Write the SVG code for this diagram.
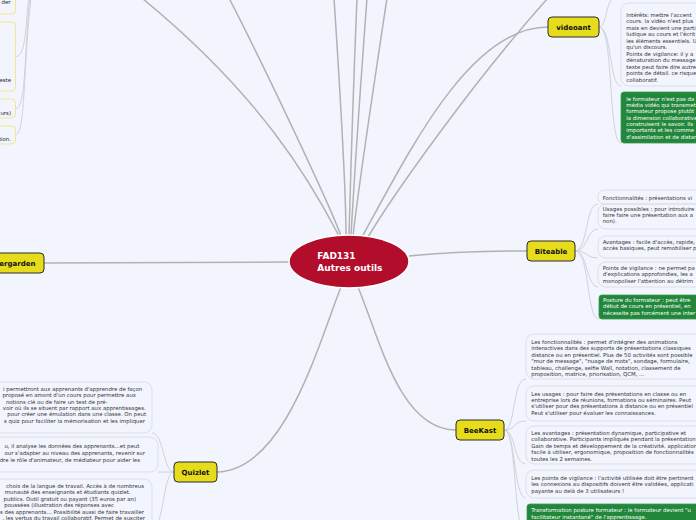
<svg xmlns="http://www.w3.org/2000/svg" width="696" height="520" viewBox="0 0 696 520">
<style>
.main{stroke:#b2b2b2;stroke-width:1.5;fill:none}
.sub{stroke:#cfd2d8;stroke-width:1;fill:none}
.node rect{fill:#e6dc1c;stroke:#2b2b2b;stroke-width:1}
.lbl{font-family:"DejaVu Sans",Verdana,sans-serif;font-weight:bold;font-size:7px;fill:#111;text-anchor:middle}
.card{fill:none;stroke:#dcdfe8;stroke-width:1}
.ycard{fill:none;stroke:#f3e78e;stroke-width:1}
.green{fill:#22873a;stroke:#3a9a50;stroke-width:0.8}
.t{font-family:"DejaVu Sans",Verdana,sans-serif;font-size:5.4px;fill:#333333}
.tw{font-family:"DejaVu Sans",Verdana,sans-serif;font-size:5.4px;fill:#ffffff}
.te{text-anchor:end}
.dk{fill:#222222}
</style>
<rect x="0" y="0" width="696" height="520" fill="#f2f5fd"/>

<g id="connectors">
  <path class="main" d="M339,236 C310,180 260,95 143,-1"/>
  <path class="main" d="M341,236 C330,205 262,62 229,-2"/>
  <path class="main" stroke-width="2.2" d="M346,236 C346,200 342,120 334,-2"/>
  <path class="main" d="M349,236 C350,200 352,120 357,-2"/>
  <path class="main" d="M351,236 C353,200 358,120 367,-2"/>
  <path class="main" d="M353,236 C357,200 370,110 387,-2"/>
  <path class="main" d="M368,237 C390,200 470,85 548,-2"/>
  <path class="main" d="M362,237 C410,150 470,27 548,27"/>
  <path class="main" d="M289,262 C200,262 120,263 44,263"/>
  <path class="main" d="M409,256 C450,252 490,251 527,251"/>
  <path class="main" d="M341,287 C318,345 285,470 217,472"/>
  <path class="main" d="M358,287 C380,340 400,430 456,430"/>
  <path class="sub" d="M599,27 C607,27 605,2 614,-2"/>
  <path class="sub" d="M599,27 C612,27 609,86 621,86"/>
  <path class="sub" d="M599,27 C614,27 608,143 621,143"/>
  <path class="sub" d="M575,251 C588,251 585,204 598,204"/>
  <path class="sub" d="M575,251 C588,251 586,229 598,229"/>
  <path class="sub" d="M575,251 C588,251 586,258 598,258"/>
  <path class="sub" d="M575,251 C588,251 586,287 598,287"/>
  <path class="sub" d="M575,251 C590,251 586,319 599,319"/>
  <path class="sub" d="M504,430 C516,430 512,379 526,379"/>
  <path class="sub" d="M504,430 C516,430 513,421 526,421"/>
  <path class="sub" d="M504,430 C516,430 513,464 526,464"/>
  <path class="sub" d="M504,430 C516,430 513,498 526,498"/>
  <path class="sub" d="M504,430 C518,430 512,534 527,534"/>
  <path class="sub" d="M174,472 C163,472 164,433 152,433"/>
  <path class="sub" d="M174,472 L158,472"/>
  <path class="sub" d="M174,472 C163,472 164,529 152,529"/>
  <path class="sub" d="M15.5,56.5 C26,56.5 25,30 29,-5"/>
  <path class="sub" d="M15.5,108.5 C26,108.5 24,60 30,-5"/>
  <path class="sub" d="M15.5,135 C26,135 23,60 31.5,-5"/>
</g>

<g id="central">
  <ellipse cx="349" cy="261.5" rx="60" ry="26.5" fill="#b20d2b" stroke="#ffffff" stroke-width="1.5"/>
  <text x="317.3" y="259" font-family="DejaVu Sans, Verdana, sans-serif" font-weight="bold" font-size="9" fill="#ffffff">FAD131</text>
  <text x="317.3" y="270.5" font-family="DejaVu Sans, Verdana, sans-serif" font-weight="bold" font-size="9" fill="#ffffff">Autres outils</text>
</g>

<g id="videoant" class="node">
  <rect x="548" y="17" width="51" height="20" rx="4"/>
  <text class="lbl" x="573.5" y="29.5">videoant</text>
</g>
<g id="biteable" class="node">
  <rect x="527" y="241" width="48" height="20" rx="4"/>
  <text class="lbl" x="551" y="253.5">Biteable</text>
</g>
<g id="beekast" class="node">
  <rect x="456" y="420" width="48" height="20" rx="4"/>
  <text class="lbl" x="480" y="432.5">BeeKast</text>
</g>
<g id="quizlet" class="node">
  <rect x="174" y="462" width="43" height="20" rx="4"/>
  <text class="lbl" x="195.5" y="474.5">Quizlet</text>
</g>
<g id="kindergarden" class="node">
  <rect x="-22" y="253" width="66" height="20" rx="4"/>
  <text class="lbl" x="35.5" y="265.5" style="text-anchor:end">ergarden</text>
</g>

<g id="tl-card1">
  <rect class="ycard" x="-60" y="-30" width="75.5" height="44" rx="4"/>
  <text class="t te dk" x="10.5" y="3.8">der</text>
</g>
<g id="tl-card2">
  <rect class="ycard" x="-60" y="22" width="75.5" height="69" rx="4"/>
  <text class="t te dk" x="11" y="81.8">este</text>
</g>
<g id="tl-card3">
  <rect class="ycard" x="-60" y="99" width="75.5" height="19" rx="4"/>
  <text class="t te dk" x="11" y="114.5">urs)</text>
</g>
<g id="tl-card4">
  <rect class="ycard" x="-60" y="126" width="75.5" height="18" rx="4"/>
  <text class="t te dk" x="11" y="140.8">tion.</text>
</g>

<g id="videoant-c1">
  <rect class="card" x="621" y="3" width="100" height="83" rx="8"/>
  <text class="t" x="626.3" y="16.8">Intérêts: mettre l'accent</text>
  <text class="t" x="626.3" y="23.3">cours. la vidéo n'est plus</text>
  <text class="t" x="626.3" y="29.8">mais en devient une parti</text>
  <text class="t" x="626.3" y="36.3">ludique au cours et l'écrit</text>
  <text class="t" x="626.3" y="42.8">les éléments essentiels. U</text>
  <text class="t" x="626.3" y="49.3">qu'un discours.</text>
  <text class="t" x="626.3" y="55.8">Points de vigilance: il y a</text>
  <text class="t" x="626.3" y="62.3">dénaturation du message</text>
  <text class="t" x="626.3" y="68.8">texte peut faire dire autre</text>
  <text class="t" x="626.3" y="75.3">points de détail. ce risque</text>
  <text class="t" x="626.3" y="81.8">collaboratif.</text>
</g>
<g id="videoant-c2">
  <rect class="green" x="621" y="92" width="100" height="51" rx="3"/>
  <text class="tw" x="626.3" y="100.5">le formateur n'est pas da</text>
  <text class="tw" x="626.3" y="106.9">média vidéo qui transmet</text>
  <text class="tw" x="626.3" y="113.2">formateur propose plutôt</text>
  <text class="tw" x="626.3" y="119.6">la dimension collaborative</text>
  <text class="tw" x="626.3" y="125.9">construisent le savoir. Ils</text>
  <text class="tw" x="626.3" y="132.3">importants et les comme</text>
  <text class="tw" x="626.3" y="138.6">d'assimilation et de distan</text>
</g>

<g id="biteable-c1">
  <rect class="card" x="598" y="190" width="120" height="14" rx="6"/>
  <text class="t" x="602.7" y="199.8">Fonctionnalités : présentations vi</text>
</g>
<g id="biteable-c2">
  <rect class="card" x="598" y="204" width="120" height="25" rx="8"/>
  <text class="t" x="602.7" y="210.5">Usages possibles : pour introduire</text>
  <text class="t" x="602.7" y="217.1">faire faire une présentation aux a</text>
  <text class="t" x="602.7" y="223.3">non).</text>
</g>
<g id="biteable-c3">
  <rect class="card" x="598" y="236" width="120" height="22" rx="8"/>
  <text class="t" x="602.7" y="244.1">Avantages : facile d'accès, rapide,</text>
  <text class="t" x="602.7" y="250">accès basiques, peut remobiliser p</text>
</g>
<g id="biteable-c4">
  <rect class="card" x="598" y="262" width="120" height="25" rx="8"/>
  <text class="t" x="602.7" y="269.8">Points de vigilance : ne permet pa</text>
  <text class="t" x="602.7" y="276.1">d'explications approfondies, les a</text>
  <text class="t" x="602.7" y="282.5">monopoliser l'attention au détrim</text>
</g>
<g id="biteable-c5">
  <rect class="green" x="599" y="295" width="120" height="24" rx="3"/>
  <text class="tw" x="603" y="301.8">Posture du formateur : peut être</text>
  <text class="tw" x="603" y="308.1">début de cours en présentiel, en</text>
  <text class="tw" x="603" y="314.6">nécessite pas forcément une inter</text>
</g>

<g id="beekast-c1">
  <rect class="card" x="526" y="334" width="190" height="45" rx="8"/>
  <text class="t" x="531.3" y="343.8">Les fonctionnalités : permet d'intégrer des animations</text>
  <text class="t" x="531.3" y="349.5">interactives dans des supports de présentations classiques</text>
  <text class="t" x="531.3" y="356.8">distance ou en présentiel. Plus de 50 activités sont possible</text>
  <text class="t" x="531.3" y="363.3">"mur de message", "nuage de mots", sondage, formulaire,</text>
  <text class="t" x="531.3" y="369.8">tableau, challenge, selfie Wall, notation, classement de</text>
  <text class="t" x="531.3" y="376.3">proposition, matrice, priorisation, QCM, ...</text>
</g>
<g id="beekast-c2">
  <rect class="card" x="526" y="386" width="190" height="35" rx="8"/>
  <text class="t" x="531.3" y="395.5">Les usages : pour faire des présentations en classe ou en</text>
  <text class="t" x="531.3" y="401.9">entreprise lors de réunions, formations ou séminaires. Peut</text>
  <text class="t" x="531.3" y="408.4">s'utiliser pour des présentations à distance ou en présentiel</text>
  <text class="t" x="531.3" y="414.8">Peut s'utiliser pour évaluer les connaissances.</text>
</g>
<g id="beekast-c3">
  <rect class="card" x="526" y="426" width="190" height="38" rx="8"/>
  <text class="t" x="531.3" y="434.5">Les avantages : présentation dynamique, participative et</text>
  <text class="t" x="531.3" y="441.1">collaborative. Participants impliqués pendant la présentation</text>
  <text class="t" x="531.3" y="447.7">Gain de temps et développement de la créativité. application</text>
  <text class="t" x="531.3" y="454.1">facile à utiliser, ergonomique, proposition de fonctionnalités</text>
  <text class="t" x="531.3" y="460.6">toutes les 2 semaines.</text>
</g>
<g id="beekast-c4">
  <rect class="card" x="526" y="470" width="190" height="28" rx="8"/>
  <text class="t" x="531.3" y="479.5">Les points de vigilance : l'activité utilisée doit être pertinent</text>
  <text class="t" x="531.3" y="486.1">les connexions au dispositifs doivent être validées, applicati</text>
  <text class="t" x="531.3" y="492.7">payante au delà de 3 utilisateurs !</text>
</g>
<g id="beekast-c5">
  <rect class="green" x="527" y="504" width="190" height="30" rx="3"/>
  <text class="tw" x="531.3" y="512.1">Transformation posture formateur : le formateur devient "u</text>
  <text class="tw" x="531.3" y="518.6">facilitateur instantané" de l'apprentissage.</text>
</g>

<g id="quizlet-c1">
  <rect class="card" x="-200" y="382" width="352" height="51" rx="8"/>
  <text class="t te" x="142.3" y="390.5">i permettront aux apprenants d'apprendre de façon</text>
  <text class="t te" x="136" y="397.1">proposé en amont d'un cours pour permettre aux</text>
  <text class="t te" x="107.5" y="403.5">notions clé ou de faire un test de pré-</text>
  <text class="t te" x="145.7" y="409.8">voir où ils se situent par rapport aux apprentissages.</text>
  <text class="t te" x="146" y="416.1">pour créer une émulation dans une classe. On peut</text>
  <text class="t te" x="145" y="422.8">s quiz pour faciliter la mémorisation et les impliquer</text>
</g>
<g id="quizlet-c2">
  <rect class="card" x="-200" y="437" width="358" height="35" rx="8"/>
  <text class="t te" x="139.3" y="447.8">u, il analyse les données des apprenants…et peut</text>
  <text class="t te" x="145" y="455.1">our s'adapter au niveau des apprenants, revenir sur</text>
  <text class="t te" x="140" y="461.8">dre le rôle d'animateur, de médiateur pour aider les</text>
</g>
<g id="quizlet-c3">
  <rect class="card" x="-200" y="479" width="352" height="50" rx="8"/>
  <text class="t te" x="144" y="487.8">choix de la langue de travail. Accès à de nombreus</text>
  <text class="t te" x="130.7" y="493.5">munauté des enseignants et étudiants quizlet.</text>
  <text class="t te" x="136" y="500.8">publics. Outil gratuit ou payant (35 euros par an)</text>
  <text class="t te" x="114" y="506.8">poussées (illustration des réponses avec</text>
  <text class="t te" x="144" y="513.5">s des apprenants… Possibilité aussi de faire travailler</text>
  <text class="t te" x="145" y="519.8">, les vertus du travail collaboratif. Permet de susciter</text>
</g>
</svg>
